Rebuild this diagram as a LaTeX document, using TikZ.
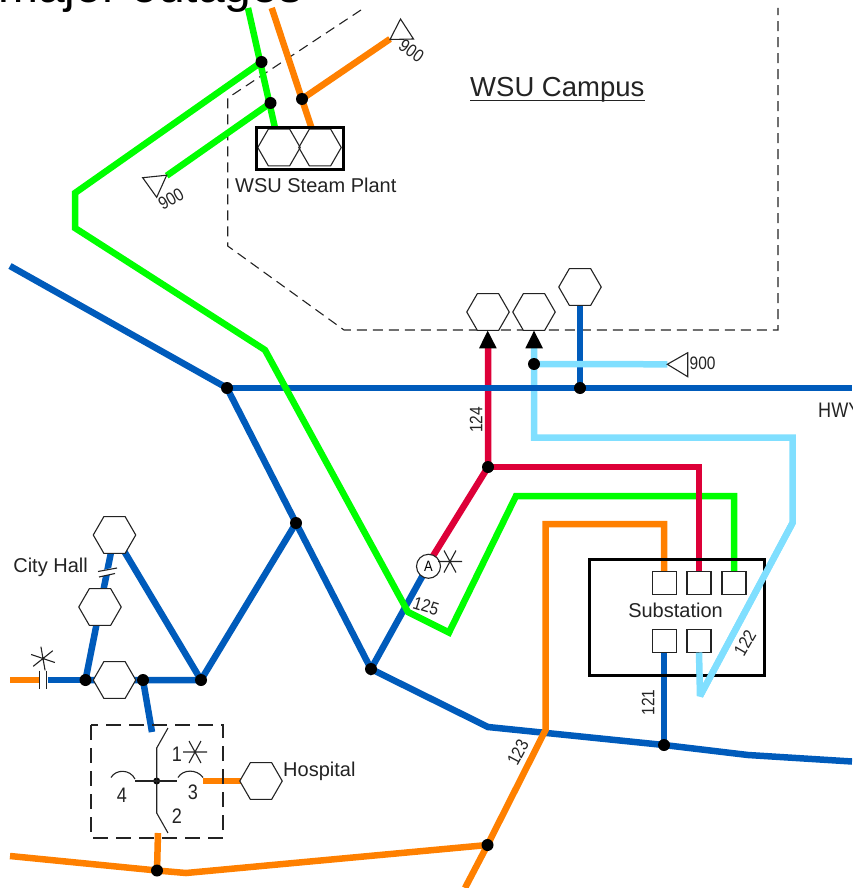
\documentclass[tikz,border=0pt]{standalone}
\usepackage{fontspec}
\setmainfont{Liberation Sans}
\newfontfamily\narrowfont[FakeStretch=0.86]{Liberation Sans}
\usetikzlibrary{shapes.geometric,arrows.meta,backgrounds}
\definecolor{cblue}{RGB}{0,91,187}
\definecolor{cgreen}{RGB}{0,255,0}
\definecolor{corange}{RGB}{255,128,0}
\definecolor{cred}{RGB}{221,0,56}
\definecolor{ccyan}{RGB}{128,223,255}
\definecolor{cink}{RGB}{35,35,35}
\tikzset{
 x=1pt,y=-1pt,
 wire/.style={line width=6.5pt,line join=miter},
 bl/.style={wire,draw=cblue},
 gr/.style={wire,draw=cgreen},
 or/.style={wire,draw=corange},
 rd/.style={wire,draw=cred},
 cy/.style={wire,draw=ccyan},
 thin ink/.style={draw=cink,line width=1.1pt},
 dashbound/.style={draw=cink,line width=1.1pt,dash pattern=on 10pt off 6pt},
 dashhosp/.style={draw=cink,line width=1.1pt,dash pattern=on 15pt off 8pt},
 hexa/.style={regular polygon,regular polygon sides=6,minimum size=42.5pt,inner sep=0pt,draw=cink,line width=1.1pt,fill=white},
 hexb/.style={regular polygon,regular polygon sides=6,minimum size=42.5pt,inner sep=0pt,draw=cink,line width=1.1pt},
 dot/.style={circle,fill=black,inner sep=0pt,minimum size=12pt},
 sdot/.style={circle,fill=black,inner sep=0pt,minimum size=7pt},
 port/.style={rectangle,draw=cink,line width=1.1pt,fill=white,minimum width=24pt,minimum height=23pt,inner sep=0pt},
 lbl/.style={inner sep=0pt,text=cink,font=\fontsize{20}{22}\selectfont},
 num/.style={inner sep=0pt,text=cink,font=\narrowfont\fontsize{18}{20}\selectfont},
 dig/.style={inner sep=0pt,text=cink,font=\narrowfont\fontsize{21}{23}\selectfont},
 tri/.style={draw=cink,line width=1.1pt},
}
\newcommand{\astk}[3]{\begin{scope}[shift={(#1,#2)},rotate=#3]\draw[thin ink] (-12,0) -- (12,0) (-6,-11) -- (6,11) (6,-11) -- (-6,11);\end{scope}}
\begin{document}
\begin{tikzpicture}
\useasboundingbox (0,0) rectangle (852,888);
\clip (0,0) rectangle (852,888);
% title
\node[inner sep=0pt,anchor=base west,font=\fontsize{48}{52}\selectfont,text=black] (title) at (-2,3) {major outages};
% junctions
\node[dot] (j1) at (227,388) {};
\node[dot] (j2) at (296,523) {};
\node[dot] (j3) at (371,669) {};
\node[dot] (j4) at (201,680) {};
\node[dot] (j5) at (85.5,680) {};
\node[dot] (j6) at (143,680) {};
\node[dot] (j7) at (580,388) {};
\node[dot] (j8) at (664,745) {};
\node[dot] (j9) at (157,870.5) {};
\node[dot] (j10) at (487.5,845) {};
\node[dot] (j11) at (261.5,62) {};
\node[dot] (j12) at (270.5,103) {};
\node[dot] (j13) at (302,99) {};
\node[dot] (j14) at (488,467) {};
\node[dot] (j15) at (534,364) {};
% hexagons
\node[hexa] (h1) at (488,312) {};
\node[hexa] (h2) at (534,312) {};
\node[hexa] (h3) at (580,287) {};
\node[hexa] (h4) at (114.5,535) {};
\node[hexa] (h5) at (100,607) {};
\node[hexa] (h6) at (114.5,680) {};
\node[hexa] (h7) at (261,781) {};
\node[hexb] (s1) at (279,147.5) {};
\node[hexb] (s2) at (320,147.5) {};
\begin{pgfonlayer}{background}
% campus boundary
\draw[dashbound] (361,10) -- (227.7,98) -- (227.7,246) -- (344,330) -- (778,330) -- (778,8);
% red and light blue run beneath the main feeders
\draw[rd] (433,556) -- (j14.center) -- (488,345);
\draw[cy] (534,345) -- (534,437.5) -- (792.5,437.5) -- (792.5,523) -- (700,696);
% blue
\draw[bl] (10,266) -- (j1.center) -- (j2.center) -- (j3.center) -- (428,566);
\draw[bl] (j1.center) -- (852,388);
\draw[bl] (j2.center) -- (j4.center) -- (j5.center);
\draw[bl] (j4.center) -- (h4.center);
\draw[bl] (j5.center) -- (h5.center) -- (h4.center);
\draw[bl] (j5.center) -- (47.5,680);
\draw[bl] (j6.center) -- (152,732);
\draw[bl] (j3.center) -- (488,727) -- (j8.center) -- (748,755) -- (852,761.5);
\draw[bl] (j8.center) -- (664,640);
\draw[bl] (j7.center) -- (h3.center);
% green
\draw[gr] (248,8) -- (275,128);
\draw[gr] (j11.center) -- (75,193) -- (75,228) -- (265,350) -- (408,612) -- (449,632.5) -- (516,496) -- (734,496) -- (734,572);
\draw[gr] (j12.center) -- (166.7,175.7);
% orange
\draw[or] (271.7,8) -- (311.5,128);
\draw[or] (j13.center) -- (390,39);
\draw[or] (10,680) -- (39,680);
\draw[or] (203,781) -- (h7.center);
\draw[or] (j9.center) -- (158,833);
\draw[or] (10,856) -- (j9.center) -- (186,873) -- (j10.center) -- (465,888);
\draw[or] (j10.center) -- (545.5,730) -- (545.5,524) -- (664,524) -- (664,572);
% red and light blue on top
\draw[rd] (j14.center) -- (699,467) -- (699,572);
\draw[cy] (j15.center) -- (667.3,364.3);
\end{pgfonlayer}
% campus title
\node[lbl,font=\fontsize{27.5}{30}\selectfont,anchor=base west] (campus) at (470,97) {WSU Campus};
\draw[draw=cink,line width=1.6pt] (campus.base west) ++(0,3.5) -- ++(175,0);
% steam plant box
\draw[draw=black,line width=3pt] (256,127.5) rectangle (343,169);
\node[lbl,anchor=base west] (steam) at (235,192) {WSU Steam Plant};
% arrowheads
\fill[black] (487.7,330.7) -- (479,348.3) -- (496.7,348.3) -- cycle;
\fill[black] (534,330.7) -- (525.3,348.3) -- (543,348.3) -- cycle;
% substation
\draw[draw=black,line width=3pt] (589.5,559) rectangle (764,675);
\node[port] (p1) at (664.5,582.7) {};
\node[port] (p2) at (699,582.7) {};
\node[port] (p3) at (734,582.7) {};
\node[port] (p4) at (664.5,640.7) {};
\node[port] (p5) at (699,640.7) {};
\node[lbl,anchor=base] (sub) at (675.5,617) {Substation};
% the light blue feeder crosses the substation frame
\draw[cy,line join=bevel] (792.5,523) -- (700,696) -- (699,652.5);
% triangles 900
\draw[tri] (390,39.5) -- (400.5,19) -- (413.5,39) -- cycle;
\node[num,rotate=-35] (n900a) at (411.5,50.5) {900};
\draw[tri] (166.7,175.2) -- (142.7,177.7) -- (156.7,197.3) -- cycle;
\node[num,rotate=30] (n900b) at (171,199) {900};
\draw[tri] (667.3,364.3) -- (687.7,352.7) -- (687.7,376.7) -- cycle;
\node[num,anchor=west] (n900c) at (689.5,363.5) {900};
% labels
\node[dig,anchor=base west] (hwy) at (818,417) {HWY};
\node[num,rotate=90] (n124) at (476,420) {124};
\node[num,rotate=-17] (n125) at (426,606) {125};
\node[num,rotate=60] (n122) at (745,643) {122};
\node[num,rotate=90] (n121) at (648,702.5) {121};
\node[num,rotate=62] (n123) at (518,752.5) {123};
\node[lbl,anchor=base east] (city) at (88,572) {City Hall};
\node[lbl,anchor=base west] (hosp) at (283,776) {Hospital};
% ammeter
\node[circle,draw=cink,line width=1.1pt,fill=white,minimum size=24pt,inner sep=0pt,font=\narrowfont\fontsize{15}{16}\selectfont] (amm) at (428.5,566.3) {A};
\astk{450}{561.5}{0}
% capacitor symbols
\draw[thin ink] (39.5,670.5) -- (39.5,688.5) (46.8,670.5) -- (46.8,688.5);
\astk{43}{658.5}{100}
\fill[white] (97,571.5) -- (118,566.5) -- (118,572.5) -- (97,577.5) -- cycle;
\draw[thin ink] (98,571.5) -- (117,568) (99,577) -- (115,573.5);
% hospital switch
\draw[dashhosp] (91,725) rectangle (223,838);
\node[sdot] (sw) at (156.7,781) {};
\draw[thin ink] (168,728) -- (156.7,748) -- (156.7,813) -- (168,833);
\draw[thin ink] (135,781) -- (177,781);
\draw[thin ink] (111,777.5) .. controls (116,769) and (130,769) .. (135,779);
\draw[thin ink] (178,777.5) .. controls (183,769) and (197,769) .. (203,777.5);
\node[dig] (d1) at (177,754) {1};
\astk{195}{752}{0}
\node[dig] (d2) at (177,816) {2};
\node[dig] (d3) at (193,792) {3};
\node[dig] (d4) at (122,795) {4};
\end{tikzpicture}
\end{document}
